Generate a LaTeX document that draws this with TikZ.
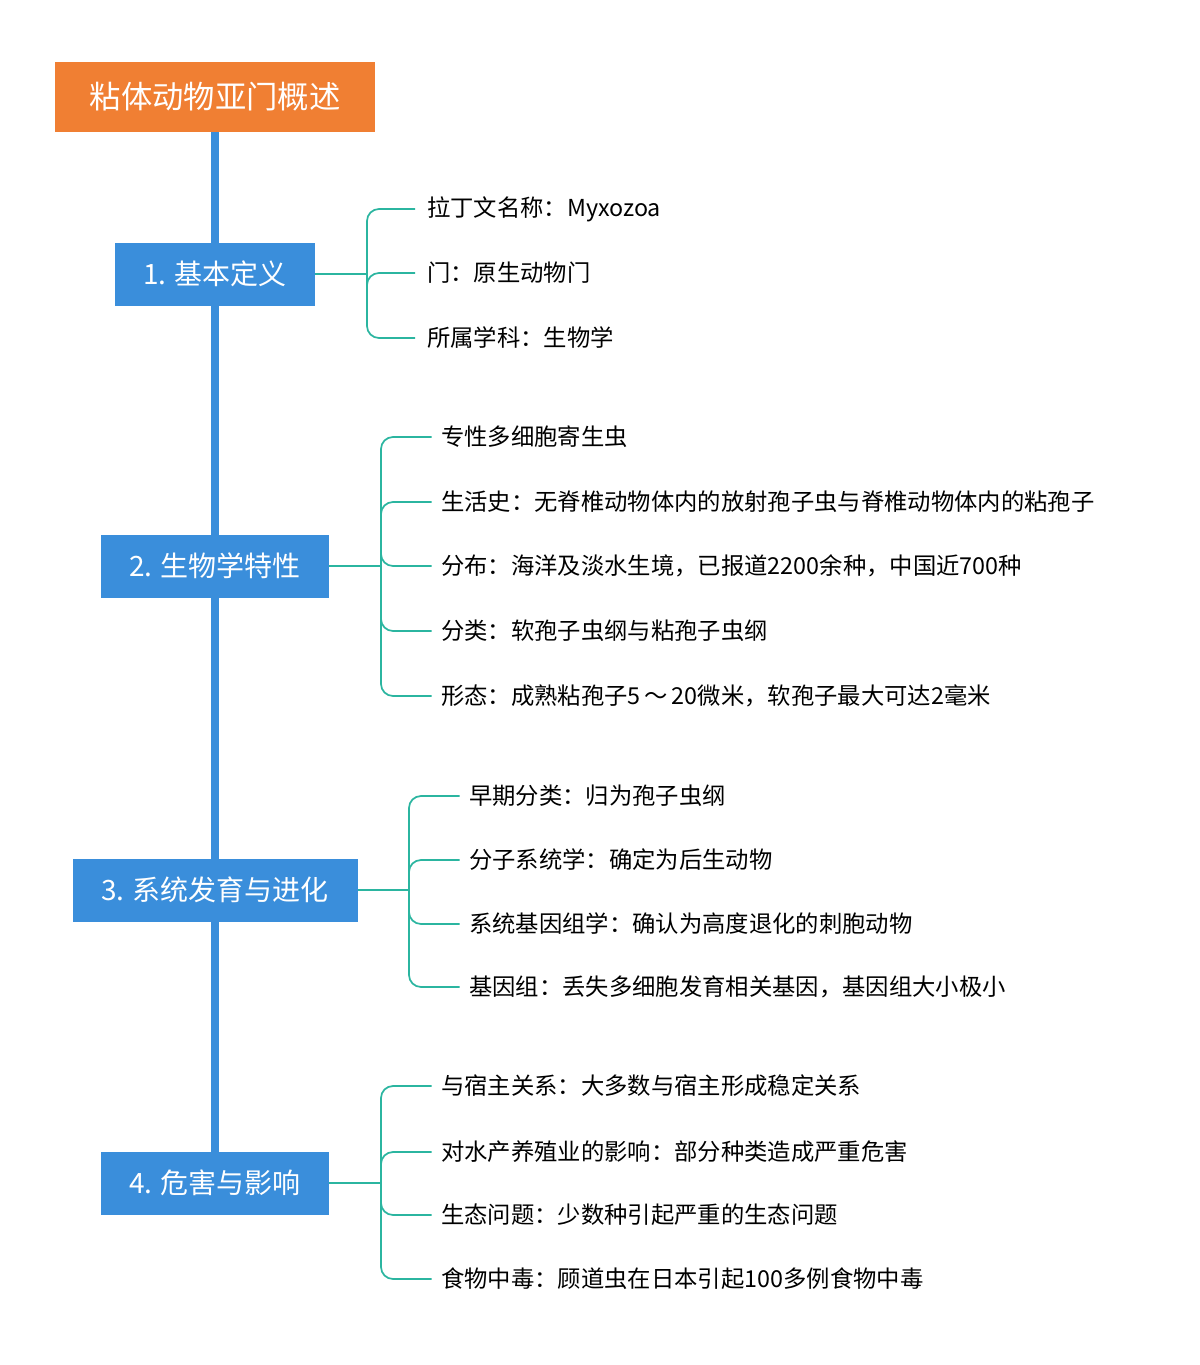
\documentclass[tikz,border=0pt]{standalone}
\usepackage{fontspec}
\setmainfont{Noto Sans CJK SC}
\begin{document}
\begin{tikzpicture}[x=0.75pt,y=-0.75pt,
  root/.style={fill=rootc,text=white,font=\fontsize{23.5}{26}\selectfont,minimum width=320*0.75pt,minimum height=70*0.75pt,inner sep=0pt},
  cat/.style={fill=catc,text=white,font=\fontsize{21}{24}\selectfont,minimum height=63*0.75pt,inner sep=0pt},
  leaf/.style={anchor=west,font=\fontsize{17.5}{20}\selectfont,inner sep=0pt},
  spine/.style={draw=catc,line width=6pt},
  br/.style={draw=teal1,line width=1.3pt,rounded corners=9pt}]
\definecolor{rootc}{HTML}{F07F33}
\definecolor{catc}{HTML}{3A8EDB}
\definecolor{teal1}{HTML}{2BB5A0}
\useasboundingbox (0,0) rectangle (1200,1365);
\coordinate (send) at (215,1152);
\node[root] (r) at (215,97) {粘体动物亚门概述};
\draw[spine] (r.south) -- (send);
\node[cat,minimum width=200*0.75pt] (c1) at (215,274) {1. 基本定义};
\node[cat,minimum width=228*0.75pt] (c2) at (215,566) {2. 生物学特性};
\node[cat,minimum width=285*0.75pt] (c3) at (215,890) {3. 系统发育与进化};
\node[cat,minimum width=228*0.75pt] (c4) at (215,1183) {4. 危害与影响};
% group 1
\foreach \y/\t [count=\i] in {209/拉丁文名称：Myxozoa,273/门：原生动物门,338/所属学科：生物学}
  \node[leaf] (a\i) at (427,\y) {\t};
\draw[teal1,line width=1.3pt] (c1.east) -- (367,274);
\foreach \i in {1,2,3} \draw[br] (367,274) |- ([xshift=-9pt]a\i.west);
% group 2
\foreach \y/\t [count=\i] in {437/专性多细胞寄生虫,502/生活史：无脊椎动物体内的放射孢子虫与脊椎动物体内的粘孢子,566/{分布：海洋及淡水生境，已报道2200余种，中国近700种},631/分类：软孢子虫纲与粘孢子虫纲,696/{形态：成熟粘孢子5\,\char"FF5E\,20微米，软孢子最大可达2毫米}}
  \node[leaf] (b\i) at (441,\y) {\t};
\draw[teal1,line width=1.3pt] (c2.east) -- (381,566);
\foreach \i in {1,...,5} \draw[br] (381,566) |- ([xshift=-7pt]b\i.west);
% group 3
\foreach \y/\t [count=\i] in {796/早期分类：归为孢子虫纲,860/分子系统学：确定为后生动物,924/系统基因组学：确认为高度退化的刺胞动物,987/{基因组：丢失多细胞发育相关基因，基因组大小极小}}
  \node[leaf] (d\i) at (469,\y) {\t};
\draw[teal1,line width=1.3pt] (c3.east) -- (409,890);
\foreach \i in {1,...,4} \draw[br] (409,890) |- ([xshift=-7pt]d\i.west);
% group 4
\foreach \y/\t [count=\i] in {1086/与宿主关系：大多数与宿主形成稳定关系,1152/对水产养殖业的影响：部分种类造成严重危害,1215/生态问题：少数种引起严重的生态问题,1279/食物中毒：顾道虫在日本引起100多例食物中毒}
  \node[leaf] (e\i) at (441,\y) {\t};
\draw[teal1,line width=1.3pt] (c4.east) -- (381,1183);
\foreach \i in {1,...,4} \draw[br] (381,1183) |- ([xshift=-7pt]e\i.west);
\end{tikzpicture}
\end{document}
